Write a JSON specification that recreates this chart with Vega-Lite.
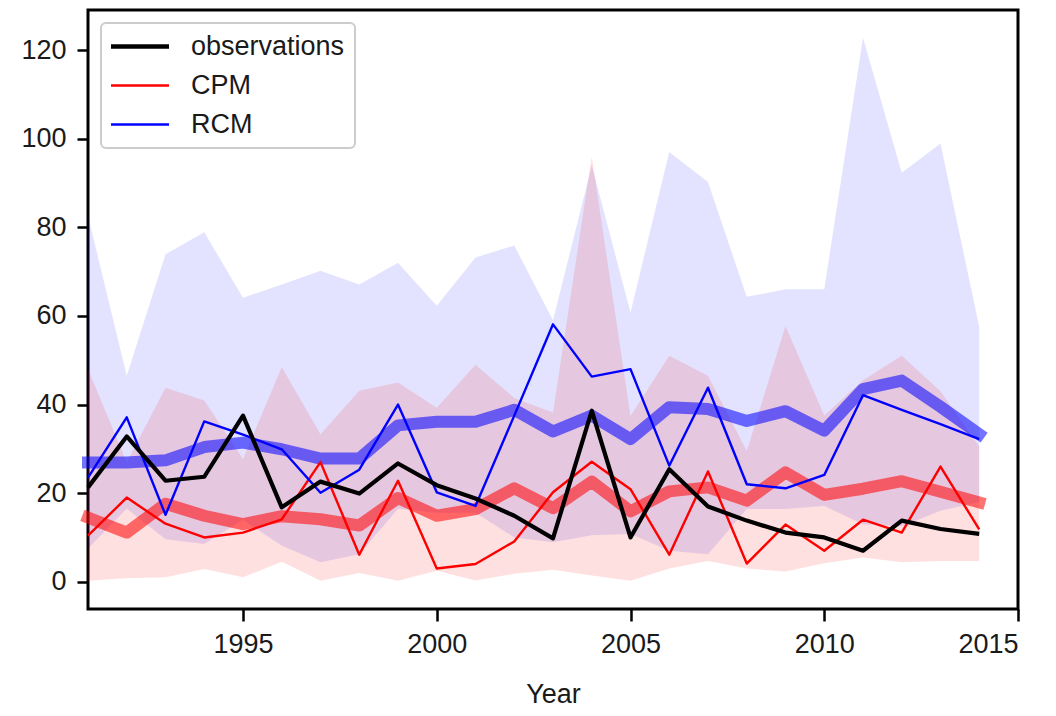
{
  "$schema": "https://vega.github.io/schema/vega-lite/v6.json",
  "width": 930,
  "height": 599,
  "autosize": {"type": "none"},
  "padding": {"left": 88, "top": 10, "right": 38, "bottom": 107},
  "background": "white",
  "config": {
    "font": "Liberation Sans",
    "view": {"stroke": "black", "strokeWidth": 3},
    "axis": {
      "labelFont": "Liberation Sans", "titleFont": "Liberation Sans",
      "labelFontSize": 27, "titleFontSize": 27, "titleFontWeight": "normal",
      "labelColor": "#1a1a1a", "titleColor": "#1a1a1a",
      "tickColor": "black", "tickWidth": 2.5, "grid": false, "domain": false
    },
    "legend": {
      "orient": "top-left", "offset": 13, "padding": 10,
      "labelFont": "Liberation Sans", "labelFontSize": 27, "labelColor": "#1a1a1a",
      "symbolType": "M-1.35,0H4.45", "symbolSize": 400, "symbolStrokeWidth": 2.5,
      "labelOffset": 53, "rowPadding": 11,
      "strokeColor": "#cccccc", "strokeWidth": 2, "cornerRadius": 5,
      "fillColor": "rgba(255,255,255,0.8)"
    }
  },
  "datasets": {
    "wide": [
      {"year": 1991, "observations": 21.3, "CPM": 10.4, "RCM": 23.5, "cpm_mean": 14.5, "rcm_mean": 26.9, "cpm_lo": 0.2, "cpm_hi": 48, "rcm_lo": 7.5, "rcm_hi": 82.6},
      {"year": 1992, "observations": 32.8, "CPM": 19.0, "RCM": 37.1, "cpm_mean": 11.1, "rcm_mean": 26.9, "cpm_lo": 0.8, "cpm_hi": 27, "rcm_lo": 16.5, "rcm_hi": 46.5},
      {"year": 1993, "observations": 22.8, "CPM": 13.1, "RCM": 15.1, "cpm_mean": 17.6, "rcm_mean": 27.4, "cpm_lo": 1.0, "cpm_hi": 43.8, "rcm_lo": 9.6, "rcm_hi": 73.9},
      {"year": 1994, "observations": 23.7, "CPM": 10.0, "RCM": 36.2, "cpm_mean": 14.9, "rcm_mean": 30.4, "cpm_lo": 2.9, "cpm_hi": 40.9, "rcm_lo": 8.5, "rcm_hi": 78.9},
      {"year": 1995, "observations": 37.5, "CPM": 11.1, "RCM": 33.2, "cpm_mean": 13.0, "rcm_mean": 31.4, "cpm_lo": 1.0, "cpm_hi": 27.7, "rcm_lo": 14, "rcm_hi": 64.1},
      {"year": 1996, "observations": 16.8, "CPM": 14.1, "RCM": 29.9, "cpm_mean": 14.8, "rcm_mean": 29.9, "cpm_lo": 4.5, "cpm_hi": 48.5, "rcm_lo": 8.1, "rcm_hi": 67.1},
      {"year": 1997, "observations": 22.6, "CPM": 27.0, "RCM": 20.1, "cpm_mean": 14.1, "rcm_mean": 27.8, "cpm_lo": 0.2, "cpm_hi": 33.3, "rcm_lo": 4.4, "rcm_hi": 70.2},
      {"year": 1998, "observations": 19.9, "CPM": 6.1, "RCM": 25.3, "cpm_mean": 12.7, "rcm_mean": 27.8, "cpm_lo": 2.0, "cpm_hi": 43.1, "rcm_lo": 6.2, "rcm_hi": 67.1},
      {"year": 1999, "observations": 26.7, "CPM": 22.8, "RCM": 40.0, "cpm_mean": 18.9, "rcm_mean": 35.3, "cpm_lo": 0.2, "cpm_hi": 45, "rcm_lo": 16.5, "rcm_hi": 72.0},
      {"year": 2000, "observations": 21.8, "CPM": 3.0, "RCM": 20.2, "cpm_mean": 14.9, "rcm_mean": 36.1, "cpm_lo": 2.5, "cpm_hi": 39.3, "rcm_lo": 15.6, "rcm_hi": 62.3},
      {"year": 2001, "observations": 18.8, "CPM": 4.0, "RCM": 17.1, "cpm_mean": 16.4, "rcm_mean": 36.1, "cpm_lo": 0.3, "cpm_hi": 49, "rcm_lo": 15.6, "rcm_hi": 73.2},
      {"year": 2002, "observations": 14.9, "CPM": 9.1, "RCM": 37.5, "cpm_mean": 21.1, "rcm_mean": 38.8, "cpm_lo": 1.8, "cpm_hi": 41.5, "rcm_lo": 10, "rcm_hi": 75.9},
      {"year": 2003, "observations": 9.8, "CPM": 20.2, "RCM": 58.1, "cpm_mean": 16.6, "rcm_mean": 33.9, "cpm_lo": 2.7, "cpm_hi": 38.2, "rcm_lo": 8.9, "rcm_hi": 59},
      {"year": 2004, "observations": 38.6, "CPM": 27.1, "RCM": 46.3, "cpm_mean": 22.6, "rcm_mean": 37.5, "cpm_lo": 1.4, "cpm_hi": 96, "rcm_lo": 10.5, "rcm_hi": 94},
      {"year": 2005, "observations": 10.0, "CPM": 20.9, "RCM": 48.0, "cpm_mean": 15.9, "rcm_mean": 32.2, "cpm_lo": 0.2, "cpm_hi": 37.4, "rcm_lo": 10.8, "rcm_hi": 60.8},
      {"year": 2006, "observations": 25.4, "CPM": 6.1, "RCM": 26.2, "cpm_mean": 20.4, "rcm_mean": 39.4, "cpm_lo": 3.0, "cpm_hi": 51, "rcm_lo": 7, "rcm_hi": 97.0},
      {"year": 2007, "observations": 17.0, "CPM": 24.9, "RCM": 43.8, "cpm_mean": 21.3, "rcm_mean": 39.0, "cpm_lo": 4.7, "cpm_hi": 46.5, "rcm_lo": 6.2, "rcm_hi": 90.2},
      {"year": 2008, "observations": 13.8, "CPM": 4.1, "RCM": 22.0, "cpm_mean": 18.3, "rcm_mean": 36.3, "cpm_lo": 3.0, "cpm_hi": 29.5, "rcm_lo": 16.4, "rcm_hi": 64.3},
      {"year": 2009, "observations": 11.1, "CPM": 12.9, "RCM": 21.1, "cpm_mean": 24.7, "rcm_mean": 38.5, "cpm_lo": 2.3, "cpm_hi": 57.7, "rcm_lo": 16.4, "rcm_hi": 66.0},
      {"year": 2010, "observations": 10.0, "CPM": 7.0, "RCM": 24.1, "cpm_mean": 19.6, "rcm_mean": 34.1, "cpm_lo": 4.2, "cpm_hi": 37.5, "rcm_lo": 17.1, "rcm_hi": 66.0},
      {"year": 2011, "observations": 7.0, "CPM": 14.0, "RCM": 42.1, "cpm_mean": 21.0, "rcm_mean": 43.5, "cpm_lo": 5.5, "cpm_hi": 45.5, "rcm_lo": 13, "rcm_hi": 122.8},
      {"year": 2012, "observations": 13.8, "CPM": 11.1, "RCM": 38.8, "cpm_mean": 22.7, "rcm_mean": 45.4, "cpm_lo": 4.4, "cpm_hi": 51, "rcm_lo": 12.5, "rcm_hi": 92.3},
      {"year": 2013, "observations": 11.9, "CPM": 26.0, "RCM": 35.6, "cpm_mean": 20.3, "rcm_mean": 39.5, "cpm_lo": 4.7, "cpm_hi": 43, "rcm_lo": 16, "rcm_hi": 98.9},
      {"year": 2014, "observations": 10.8, "CPM": 11.8, "RCM": 32.2, "cpm_mean": 17.9, "rcm_mean": 33.3, "cpm_lo": 4.7, "cpm_hi": 30.5, "rcm_lo": 18, "rcm_hi": 57.5}
    ]
  },
  "data": {"name": "wide"},
  "layer": [
    {
      "mark": {"type": "area", "color": "blue", "opacity": 0.11},
      "encoding": {
        "x": {"field": "year", "type": "quantitative",
          "scale": {"domain": [1991, 2015], "nice": false, "zero": false},
          "axis": {"title": "Year", "values": [1995, 2000, 2005, 2010, 2015], "format": "d", "tickSize": 12, "labelPadding": 10, "titlePadding": 24}},
        "y": {"field": "rcm_lo", "type": "quantitative",
          "scale": {"domain": [-6.15, 129.05], "nice": false, "zero": false},
          "axis": {"title": null, "values": [0, 20, 40, 60, 80, 100, 120], "tickSize": 11, "labelPadding": 11}},
        "y2": {"field": "rcm_hi"}
      }
    },
    {
      "mark": {"type": "area", "color": "red", "opacity": 0.12},
      "encoding": {
        "x": {"field": "year", "type": "quantitative"},
        "y": {"field": "cpm_lo", "type": "quantitative"},
        "y2": {"field": "cpm_hi"}
      }
    },
    {
      "mark": {"type": "line", "color": "red", "strokeWidth": 12, "opacity": 0.55, "strokeCap": "square", "strokeJoin": "round"},
      "encoding": {
        "x": {"field": "year", "type": "quantitative"},
        "y": {"field": "cpm_mean", "type": "quantitative"}
      }
    },
    {
      "mark": {"type": "line", "color": "blue", "strokeWidth": 12, "opacity": 0.55, "strokeCap": "square", "strokeJoin": "round"},
      "encoding": {
        "x": {"field": "year", "type": "quantitative"},
        "y": {"field": "rcm_mean", "type": "quantitative"}
      }
    },
    {
      "transform": [{"fold": ["CPM", "RCM", "observations"], "as": ["series", "val"]}],
      "mark": {"type": "line", "strokeJoin": "round"},
      "encoding": {
        "x": {"field": "year", "type": "quantitative"},
        "y": {"field": "val", "type": "quantitative"},
        "color": {"field": "series", "type": "nominal",
          "scale": {"domain": ["observations", "CPM", "RCM"], "range": ["black", "red", "blue"]},
          "legend": {"title": null,
            "encode": {"symbols": {"update": {"strokeWidth": {"signal": "datum.value === 'observations' ? 4.5 : 2.5"}}}}}},
        "strokeWidth": {"condition": {"test": "datum.series === 'observations'", "value": 4.2}, "value": 2.4}
      }
    }
  ]
}
